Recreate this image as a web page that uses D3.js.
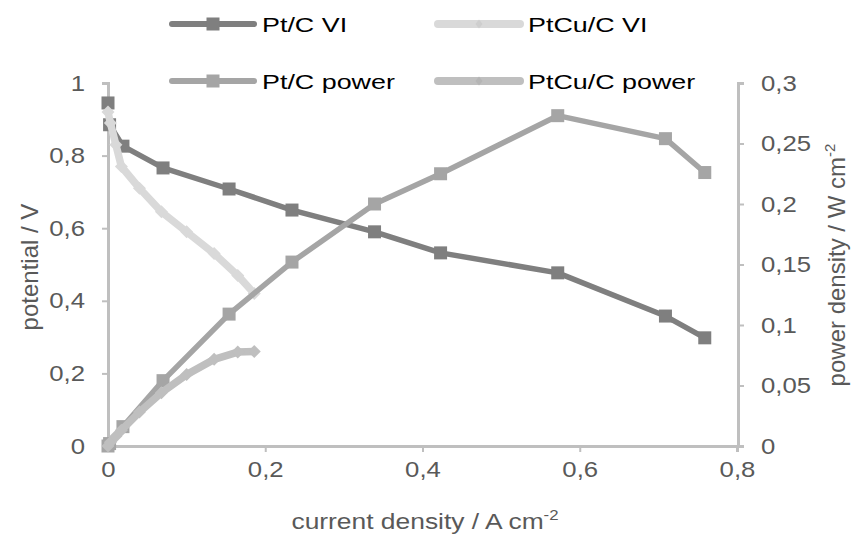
<!DOCTYPE html>
<html>
<head>
<meta charset="utf-8">
<script src="https://cdn.jsdelivr.net/npm/d3@7"></script>
<style>
  html, body { margin: 0; padding: 0; background: #fff; }
  svg { display: block; font-family: "Liberation Sans", Arial, sans-serif; }
</style>
</head>
<body>
<svg id="chart" width="856" height="535"></svg>
<script>
// Polarisation (VI) and power density curves for Pt/C and PtCu/C
const ptcCurrent  = [0, 0.002, 0.019, 0.07, 0.154, 0.234, 0.339, 0.423, 0.572, 0.709, 0.759];
const ptcPotential = [0.945, 0.885, 0.826, 0.766, 0.708, 0.650, 0.590, 0.532, 0.477, 0.358, 0.298];
const ptcPower    = [0, 0.002, 0.016, 0.054, 0.109, 0.152, 0.200, 0.225, 0.273, 0.254, 0.226];

const ptcuCurrent   = [0, 0.003, 0.01, 0.017, 0.04, 0.068, 0.1, 0.135, 0.165, 0.186];
const ptcuPotential = [0.92, 0.89, 0.83, 0.77, 0.71, 0.645, 0.59, 0.53, 0.47, 0.42];
const ptcuPower     = [0, 0.003, 0.008, 0.013, 0.028, 0.044, 0.059, 0.0716, 0.0776, 0.078];

const xTicks = [0, 0.2, 0.4, 0.6, 0.8];
const yLeftTicks = [0, 0.2, 0.4, 0.6, 0.8, 1];
const yRightTicks = [0, 0.05, 0.1, 0.15, 0.2, 0.25, 0.3];

const seriesNames = ["Pt/C VI", "PtCu/C VI", "Pt/C power", "PtCu/C power"];

const locale = d3.formatLocale({ decimal: ",", thousands: ".", grouping: [3], currency: ["", "€"] });
const fmt = locale.format("~g");

const svg = d3.select("#chart");
const axisColor = "#bfbfbf";
const textColor = "#595959";
const SX = 1.17;   // horizontal widening of the label face

const x = d3.scaleLinear().domain([0, 0.8]).range([108, 737]);
const yL = d3.scaleLinear().domain([0, 1]).range([446, 83]);
const yR = d3.scaleLinear().domain([0, 0.3]).range([446, 83]);

const zip = (xs, ys) => xs.map((v, i) => [v, ys[i]]);

const series = [
  { name: seriesNames[0], pts: zip(ptcCurrent, ptcPotential), y: yL, color: "#7f7f7f", width: 5.5, marker: "square" },
  { name: seriesNames[1], pts: zip(ptcuCurrent, ptcuPotential), y: yL, color: "#d9d9d9", width: 7.5, marker: "diamond" },
  { name: seriesNames[2], pts: zip(ptcCurrent, ptcPower), y: yR, color: "#a5a5a5", width: 5.5, marker: "square" },
  { name: seriesNames[3], pts: zip(ptcuCurrent, ptcuPower), y: yR, color: "#bfbfbf", width: 7.5, marker: "diamond" }
];

// Axes
function styleAxis(g) {
  g.selectAll(".domain").attr("stroke", axisColor).attr("stroke-width", 3);
  g.selectAll(".tick line").attr("stroke", axisColor).attr("stroke-width", 2);
  g.selectAll(".tick text").attr("fill", textColor).attr("font-size", 22)
    .attr("font-family", "'Liberation Sans', Arial, sans-serif")
    .each(function () {
      const t = d3.select(this);
      const tx = +t.attr("x") || 0;
      t.attr("x", tx / SX).attr("transform", `scale(${SX},1)`);
    });
}

svg.append("g").attr("transform", "translate(0,446)")
  .call(d3.axisBottom(x).tickValues(xTicks).tickFormat(fmt).tickSize(6).tickSizeOuter(6).tickPadding(9))
  .call(styleAxis);

svg.append("g").attr("transform", "translate(108,0)")
  .call(d3.axisLeft(yL).tickValues(yLeftTicks).tickFormat(fmt).tickSize(6).tickSizeOuter(6).tickPadding(17))
  .call(styleAxis);

svg.append("g").attr("transform", "translate(738,0)")
  .call(d3.axisRight(yR).tickValues(yRightTicks).tickFormat(fmt).tickSize(6).tickSizeOuter(6).tickPadding(17))
  .call(styleAxis);

// Axis titles
svg.append("text").attr("transform", "translate(425,529) scale(1.2,1)").attr("text-anchor", "middle")
  .attr("fill", textColor).attr("font-size", 22)
  .html('current density / A cm<tspan dy="-9" font-size="14">-2</tspan>');

svg.append("text").attr("transform", "translate(38,267) rotate(-90)").attr("text-anchor", "middle")
  .attr("fill", textColor).attr("font-size", 24).text("potential / V");

svg.append("text").attr("transform", "translate(845,265) rotate(-90)").attr("text-anchor", "middle")
  .attr("fill", textColor).attr("font-size", 24)
  .html('power density / W cm<tspan dy="-10" font-size="15">-2</tspan>');

// Markers
function drawMarker(g, type, cx, cy, color) {
  if (type === "square") {
    g.append("rect").attr("x", cx - 6.5).attr("y", cy - 6.5).attr("width", 13).attr("height", 13).attr("fill", color);
  } else {
    const s = 6.5;
    g.append("path").attr("d", `M${cx},${cy - s}L${cx + s},${cy}L${cx},${cy + s}L${cx - s},${cy}Z`).attr("fill", color);
  }
}

// Series
series.forEach(s => {
  const g = svg.append("g");
  const line = d3.line().x(d => x(d[0])).y(d => s.y(d[1]));
  g.append("path").datum(s.pts).attr("d", line).attr("fill", "none")
    .attr("stroke", s.color).attr("stroke-width", s.width)
    .attr("stroke-linejoin", "round").attr("stroke-linecap", "round");
  s.pts.forEach(d => drawMarker(g, s.marker, x(d[0]), s.y(d[1]), s.color));
});

// Legend
const legendPos = [[172, 24], [438, 24], [172, 81], [438, 81]];
series.forEach((s, i) => {
  const [lx, ly] = legendPos[i];
  const g = svg.append("g");
  g.append("line").attr("x1", lx).attr("x2", lx + 82).attr("y1", ly).attr("y2", ly)
    .attr("stroke", s.color).attr("stroke-width", s.marker === "square" ? 6 : 8)
    .attr("stroke-linecap", "round");
  if (s.marker === "square") {
    drawMarker(g, "square", lx + 41, ly, s.color);
  } else {
    const d = 3.5;
    g.append("path").attr("d", `M${lx + 41},${ly - d - 1}L${lx + 41 + d},${ly}L${lx + 41},${ly + d + 1}L${lx + 41 - d},${ly}Z`)
      .attr("fill", d3.color(s.color).darker(0.15));
  }
  g.append("text").attr("transform", `translate(${lx + 90},${ly + 8}) scale(1.28,1)`).attr("fill", "#000")
    .attr("font-size", 21).text(s.name);
});
</script>
</body>
</html>
